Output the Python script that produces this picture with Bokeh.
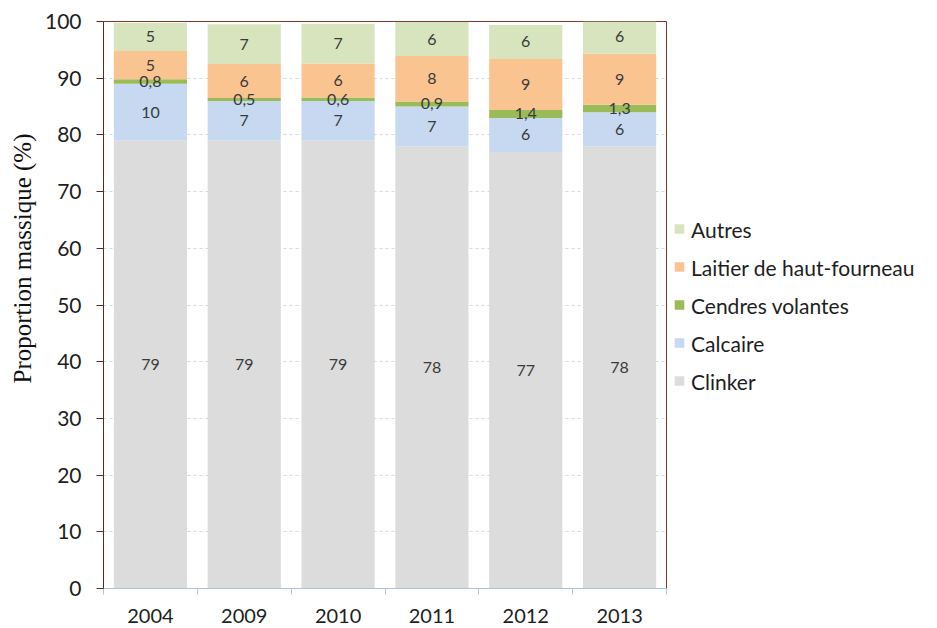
from bokeh.plotting import figure
from bokeh.models import (ColumnDataSource, Range1d, FixedTicker, Legend, LegendItem, Title)
from bokeh.core.properties import value
from bokeh.embed import file_html
from bokeh.resources import INLINE

years = ["2004", "2009", "2010", "2011", "2012", "2013"]
clinker = [79, 79, 79, 78, 77, 78]
calcaire = [10, 7, 7, 7, 6, 6]
cendres = [0.8, 0.5, 0.6, 0.9, 1.4, 1.3]
laitier = [5, 6, 6, 8, 9, 9]
autres = [5, 7, 7, 6, 6, 6]

series_names = ["Clinker", "Calcaire", "Cendres volantes", "Laitier de haut-fourneau", "Autres"]
series_keys = ["clinker", "calcaire", "cendres", "laitier", "autres"]
series_vals = [clinker, calcaire, cendres, laitier, autres]
colors = ["#dcdcdc", "#c6d9f0", "#9bbb59", "#fac491", "#d7e4bd"]

xs = list(range(len(years)))
data = {"x": xs}
for k, v in zip(series_keys, series_vals):
    data[k] = v
source = ColumnDataSource(data)

# label positions (segment midpoints) derived from the data
lab_x, lab_y, lab_t = [], [], []
for i in xs:
    base = 0.0
    for v in series_vals:
        val = v[i]
        lab_x.append(i)
        lab_y.append(base + val / 2.0)
        lab_t.append(str(val).replace(".", ","))
        base += val
lab_src = ColumnDataSource(dict(x=lab_x, y=lab_y, t=lab_t))

FONT = "Lato"

p = figure(frame_width=563, frame_height=567, output_backend="svg", toolbar_location=None,
           x_range=Range1d(-0.5, len(years) - 0.5), y_range=Range1d(0, 100),
           min_border_left=99, min_border_top=21, min_border_right=0, min_border_bottom=0)
p.background_fill_color = "white"
p.border_fill_color = "white"
p.outline_line_color = "#7a3a2c"
p.outline_line_width = 1

rs = p.vbar_stack(series_keys, x="x", width=0.78, color=colors, source=source, line_color=None)

p.text(x="x", y="y", text="t", source=lab_src, text_font=value(FONT), text_font_size="16px",
       text_color="#3a3a3a", text_align="center", text_baseline="middle")

# grid
p.xgrid.visible = False
p.ygrid.grid_line_color = "#cfdbe6"
p.ygrid.grid_line_dash = "3 3"
p.ygrid.level = "underlay"

# y axis
p.yaxis.ticker = FixedTicker(ticks=list(range(0, 101, 10)))
p.yaxis.axis_line_color = "#5a2a20"
p.yaxis.major_tick_line_color = "#5a2a20"
p.yaxis.major_tick_out = 7
p.yaxis.major_tick_in = 0
p.yaxis.minor_tick_line_color = None
p.yaxis.major_label_text_font = FONT
p.yaxis.major_label_text_font_size = "21px"
p.yaxis.major_label_text_color = "#1e1e1e"
p.yaxis.major_label_standoff = 15

# x axis
p.xaxis.ticker = FixedTicker(ticks=xs, minor_ticks=[i - 0.5 for i in range(len(years) + 1)])
p.xaxis.major_label_overrides = {i: y for i, y in zip(xs, years)}
p.xaxis.axis_line_color = "#a9c6dc"
p.xaxis.major_tick_line_color = None
p.xaxis.major_tick_out = 0
p.xaxis.major_tick_in = 0
p.xaxis.minor_tick_line_color = "#a9c6dc"
p.xaxis.minor_tick_out = 6
p.xaxis.minor_tick_in = 0
p.xaxis.major_label_text_font = FONT
p.xaxis.major_label_text_font_size = "20px"
p.xaxis.major_label_text_color = "#1e1e1e"
p.xaxis.major_label_standoff = 14

# y title
title = Title(text="Proportion massique (%)", align="left", offset=205,
              text_font="Liberation Serif", text_font_style="normal",
              text_font_size="25px", text_color="#111111", standoff=12)
p.add_layout(title, "left")

# legend
items = [LegendItem(label=n, renderers=[r]) for n, r in zip(series_names, rs)][::-1]
legend = Legend(items=items, location="center_left", margin=7, padding=0,
                glyph_width=12, glyph_height=12, label_standoff=6,
                label_height=20, spacing=13,
                label_text_font=FONT, label_text_font_size="21px", label_text_color="#1e1e1e",
                border_line_color=None, background_fill_alpha=0)
p.add_layout(legend, "right")

open("out.html", "w").write(file_html(p, INLINE))
